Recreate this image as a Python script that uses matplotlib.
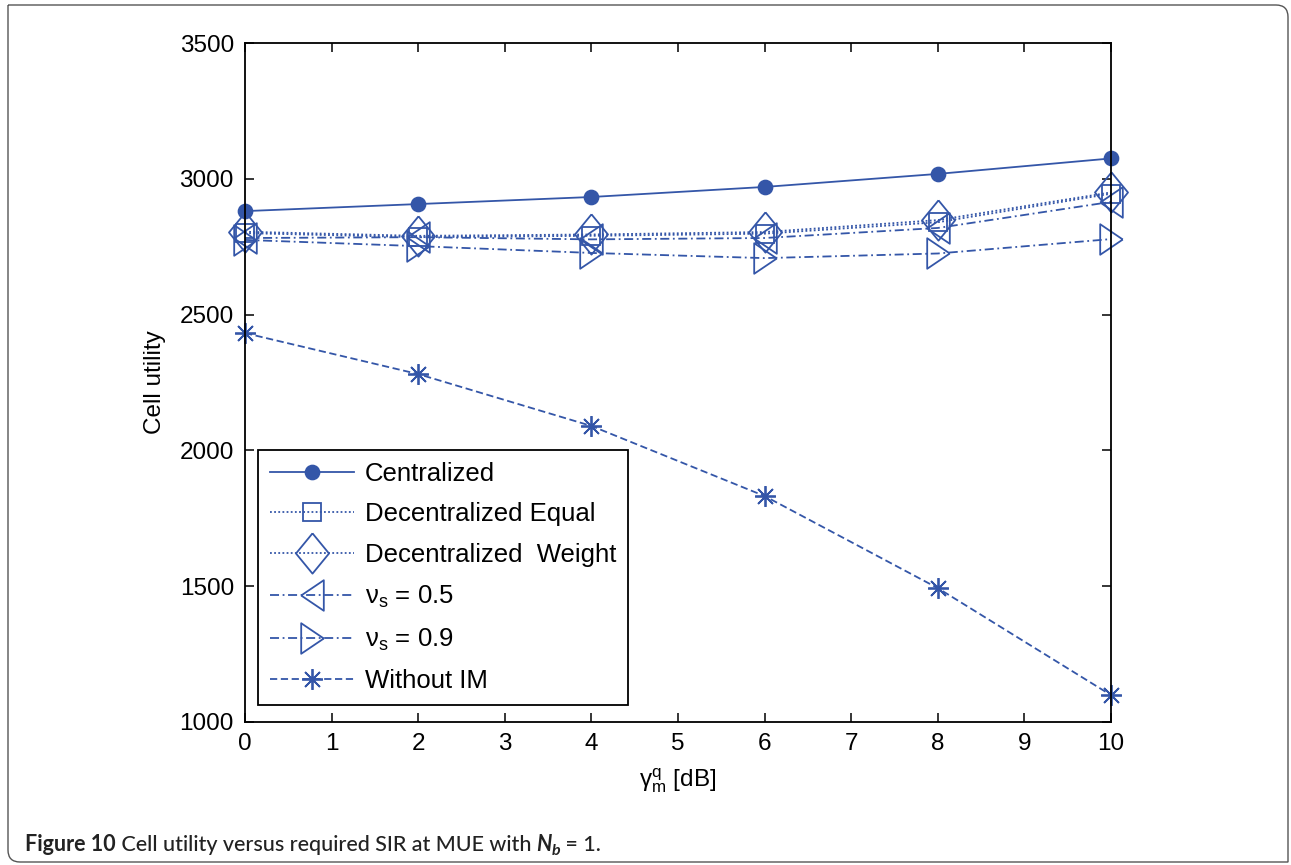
import numpy as np
import matplotlib
matplotlib.use("Agg")
import matplotlib.pyplot as plt
from matplotlib.path import Path
from matplotlib.patches import PathPatch

plt.rcParams['font.family'] = ['Liberation Sans', 'DejaVu Sans']
plt.rcParams['mathtext.fontset'] = 'custom'
plt.rcParams['mathtext.rm'] = 'Liberation Sans'
plt.rcParams['mathtext.it'] = 'Liberation Sans:italic'

# data
snr_db = [0, 2, 4, 6, 8, 10]
centralized = [2881, 2907, 2933, 2970, 3018, 3075]
dec_equal = [2800, 2785, 2790, 2798, 2840, 2945]
dec_weight = [2805, 2790, 2795, 2804, 2848, 2950]
nu_05 = [2782, 2785, 2777, 2782, 2819, 2915]
nu_09 = [2775, 2752, 2727, 2708, 2725, 2778]
without_im = [2432, 2281, 2090, 1832, 1493, 1099]

labels = ['Centralized', 'Decentralized Equal', 'Decentralized  Weight',
          r'$\mathregular{\nu_s}$ = 0.5', r'$\mathregular{\nu_s}$ = 0.9', 'Without IM']

blue = '#3456a8'
W, H = 1291, 865

# custom marker shapes (matlab-like)
diamond = Path([(0, 1), (0.82, 0), (0, -1), (-0.82, 0), (0, 1)])
tri_left = Path([(-0.74, 0), (0.74, 1), (0.74, -1), (-0.74, 0)])
tri_right = Path([(0.74, 0), (-0.74, 1), (-0.74, -1), (0.74, 0)])

series = [
    (centralized, '-', 'o', 10, True),
    (dec_equal, (0, (1, 1.3)), 's', 12.5, False),
    (dec_weight, (0, (1, 1.3)), diamond, 29, False),
    (nu_05, (0, (5, 2, 1, 2)), tri_left, 22, False),
    (nu_09, (0, (5, 2, 1, 2)), tri_right, 22, False),
    (without_im, (0, (4, 2)), (8, 2, 0), 15, False),
]

fig = plt.figure(figsize=(W / 100, H / 100), dpi=100)
ax = fig.add_axes([245 / W, 1 - 722 / H, (1111 - 245) / W, (722 - 43) / H])

for (ys, ls, mk, ms, filled), lab in zip(series, labels):
    ax.plot(snr_db, ys, linestyle=ls, marker=mk, markersize=ms, color=blue,
            lw=1.3, markeredgewidth=1.3, clip_on=False,
            markerfacecolor=blue if filled else 'none', label=lab)

ax.set_xlim(0, 10)
ax.set_ylim(1000, 3500)
ax.set_xticks(range(0, 11))
ax.set_yticks(range(1000, 3501, 500))
ax.tick_params(direction='in', length=6.5, width=1.1, top=True, right=True,
               labelsize=17.5, pad=8)
for s in ax.spines.values():
    s.set_linewidth(1.3)

ax.set_xlabel(r'$\mathregular{\gamma_m^q}$ [dB]', fontsize=17.5, labelpad=8)
ax.set_ylabel('Cell utility', fontsize=17.5, labelpad=10)

leg = ax.legend(loc='lower left', bbox_to_anchor=(0.015, 0.025), borderaxespad=0,
                fontsize=18.5, handlelength=3.3, labelspacing=0.65,
                fancybox=False, edgecolor='black', framealpha=1,
                borderpad=0.45, handletextpad=0.4)
leg.get_frame().set_linewidth(1.3)

# rounded frame around the whole figure (top-right and bottom-left corners rounded)
def fx(px):
    return px / W

def fy(py):
    return 1 - py / H

l, r, t, b, rad = 8, 1288, 5, 862, 12
verts = [(fx(l), fy(t)), (fx(r - rad), fy(t)), (fx(r), fy(t)), (fx(r), fy(t + rad)),
         (fx(r), fy(b)), (fx(l + rad), fy(b)), (fx(l), fy(b)), (fx(l), fy(b - rad)),
         (fx(l), fy(t))]
codes = [Path.MOVETO, Path.LINETO, Path.CURVE3, Path.CURVE3,
         Path.LINETO, Path.LINETO, Path.CURVE3, Path.CURVE3, Path.LINETO]
fig.patches.append(PathPatch(Path(verts, codes), transform=fig.transFigure,
                             fill=False, edgecolor='#555555', lw=1.0))

# caption, built piece by piece
cap_font = ['Lato', 'DejaVu Sans']
pieces = [('Figure 10', 'bold', 'normal', 15.5, 0),
          (' Cell utility versus required SIR at MUE with ', 'medium', 'normal', 15.5, 0),
          ('N', 'bold', 'italic', 15.5, 0),
          ('b', 'bold', 'italic', 11.5, -4),
          (' = 1.', 'medium', 'normal', 15.5, 0)]
fig.canvas.draw()
renderer = fig.canvas.get_renderer()
xpos = 25
for txt, wt, st, sz, dy in pieces:
    tt = fig.text(fx(xpos), fy(851 - dy), txt, fontsize=sz, fontweight=wt,
                  fontstyle=st, family=cap_font, va='baseline', ha='left',
                  color='#222222')
    bb = tt.get_window_extent(renderer=renderer)
    xpos += bb.width

fig.savefig('out.png', dpi=100)
